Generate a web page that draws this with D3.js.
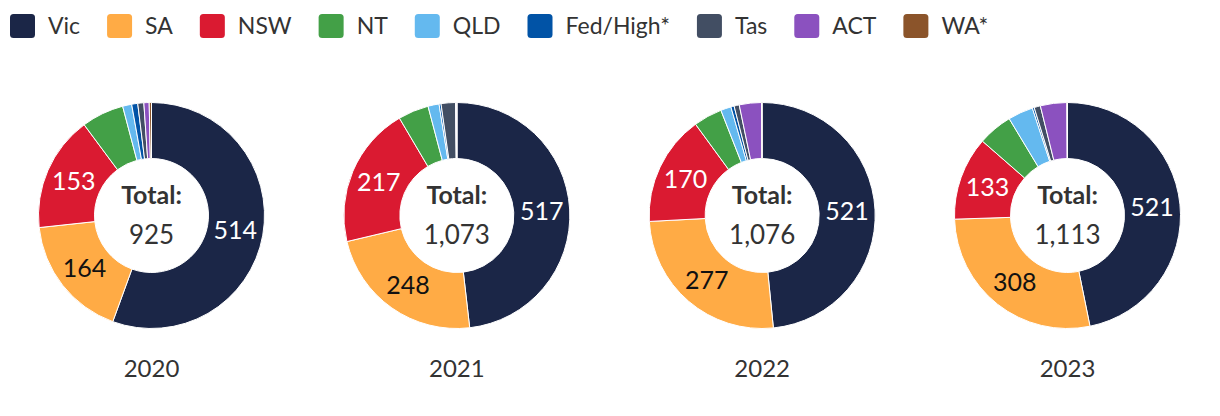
<!DOCTYPE html>
<html lang="en">
    <head>
        <meta charset="utf-8">
        <title>Donuts by year</title>
        <script src="https://d3js.org/d3.v7.min.js"></script>
        <style>
            body {
                margin: 0;
                background: #fff;
                font-family: Lato, "Open Sans", sans-serif;
            }
            text {
                fill: #333;
            }
        </style>
    </head>
    <body>
        <script type="text/javascript">

            var years = ["2020", "2021", "2022", "2023"];
            var categories = ["Vic", "SA", "NSW", "NT", "QLD", "Fed/High*", "Tas", "ACT", "WA*"];
            var colors = ["#1b2647", "#ffab45", "#da1a31", "#43a047", "#64b9ef", "#0153a6", "#424e63", "#8b51bf", "#8b542a"];
            var labelColors = ["#fff", "#111", "#fff"];

            // values per state, one entry per year
            var vic = [514, 517, 521, 521];
            var sa  = [164, 248, 277, 308];
            var nsw = [153, 217, 170, 133];
            var nt  = [56, 47, 44, 55];
            var qld = [12, 17, 16, 40];
            var fed = [8, 3, 5, 3];
            var tas = [8, 22, 8, 10];
            var act = [7, 2, 34, 42];
            var wa  = [3, 0, 1, 1];

            var series = [vic, sa, nsw, nt, qld, fed, tas, act, wa];

            var outerWidth = 1220;
            var outerHeight = 416;
            var outerR = 113,
                innerR = 57;
            var cy = 215.5;

            var svg = d3.select("body")
                        .append("svg")
                        .attr("width", outerWidth)
                        .attr("height", outerHeight);

            var color = d3.scaleOrdinal()
                          .domain(categories)
                          .range(colors);

            var xScale = d3.scalePoint()
                           .domain(years)
                           .range([151.5, 1067.5]);

            // legend
            var legend = svg.append("g").attr("class", "legend");
            var lx = 10;
            categories.forEach(function(c) {
                var item = legend.append("g").attr("transform", `translate(${lx},0)`);
                item.append("rect")
                    .attr("x", 0)
                    .attr("y", 14)
                    .attr("width", 25)
                    .attr("height", 24)
                    .attr("rx", 3.5)
                    .attr("fill", color(c));
                var t = item.append("text")
                    .attr("x", 38)
                    .attr("y", 33.5)
                    .style("font-size", "23px")
                    .text(c);
                lx += 38 + t.node().getComputedTextLength() + 27;
            });

            var pie = d3.pie()
                        .sort(null)
                        .value(d => d.value);

            var arc = d3.arc()
                        .innerRadius(innerR)
                        .outerRadius(outerR);

            var labelArc = d3.arc()
                             .innerRadius(85)
                             .outerRadius(85);

            var fmt = d3.format(",");

            years.forEach(function(year, i) {
                var data = categories.map(function(c, j) {
                    return { key: c, index: j, value: series[j][i] };
                });
                var total = d3.sum(data, d => d.value);

                var g = svg.append("g")
                    .attr("transform", `translate(${xScale(year)},${cy})`);

                var arcs = pie(data);

                g.selectAll("path")
                    .data(arcs)
                    .enter()
                    .append("path")
                    .attr("d", arc)
                    .attr("fill", d => color(d.data.key))
                    .attr("stroke", "#fff")
                    .attr("stroke-width", 1);

                g.selectAll("text.val")
                    .data(arcs.filter(d => d.data.value > 100))
                    .enter()
                    .append("text")
                    .attr("class", "val")
                    .attr("transform", d => `translate(${labelArc.centroid(d)})`)
                    .attr("text-anchor", "middle")
                    .attr("dy", "0.36em")
                    .style("font-size", "25px")
                    .style("fill", d => labelColors[d.data.index])
                    .text(d => d.data.value);

                g.append("text")
                    .attr("text-anchor", "middle")
                    .attr("y", -12)
                    .style("font-size", "25px")
                    .style("font-weight", "bold")
                    .text("Total:");

                g.append("text")
                    .attr("text-anchor", "middle")
                    .attr("y", 28)
                    .style("font-size", "26px")
                    .text(fmt(total));

                svg.append("text")
                    .attr("x", xScale(year))
                    .attr("y", 377)
                    .attr("text-anchor", "middle")
                    .style("font-size", "24px")
                    .text(year);
            });

        </script>
    </body>
</html>
